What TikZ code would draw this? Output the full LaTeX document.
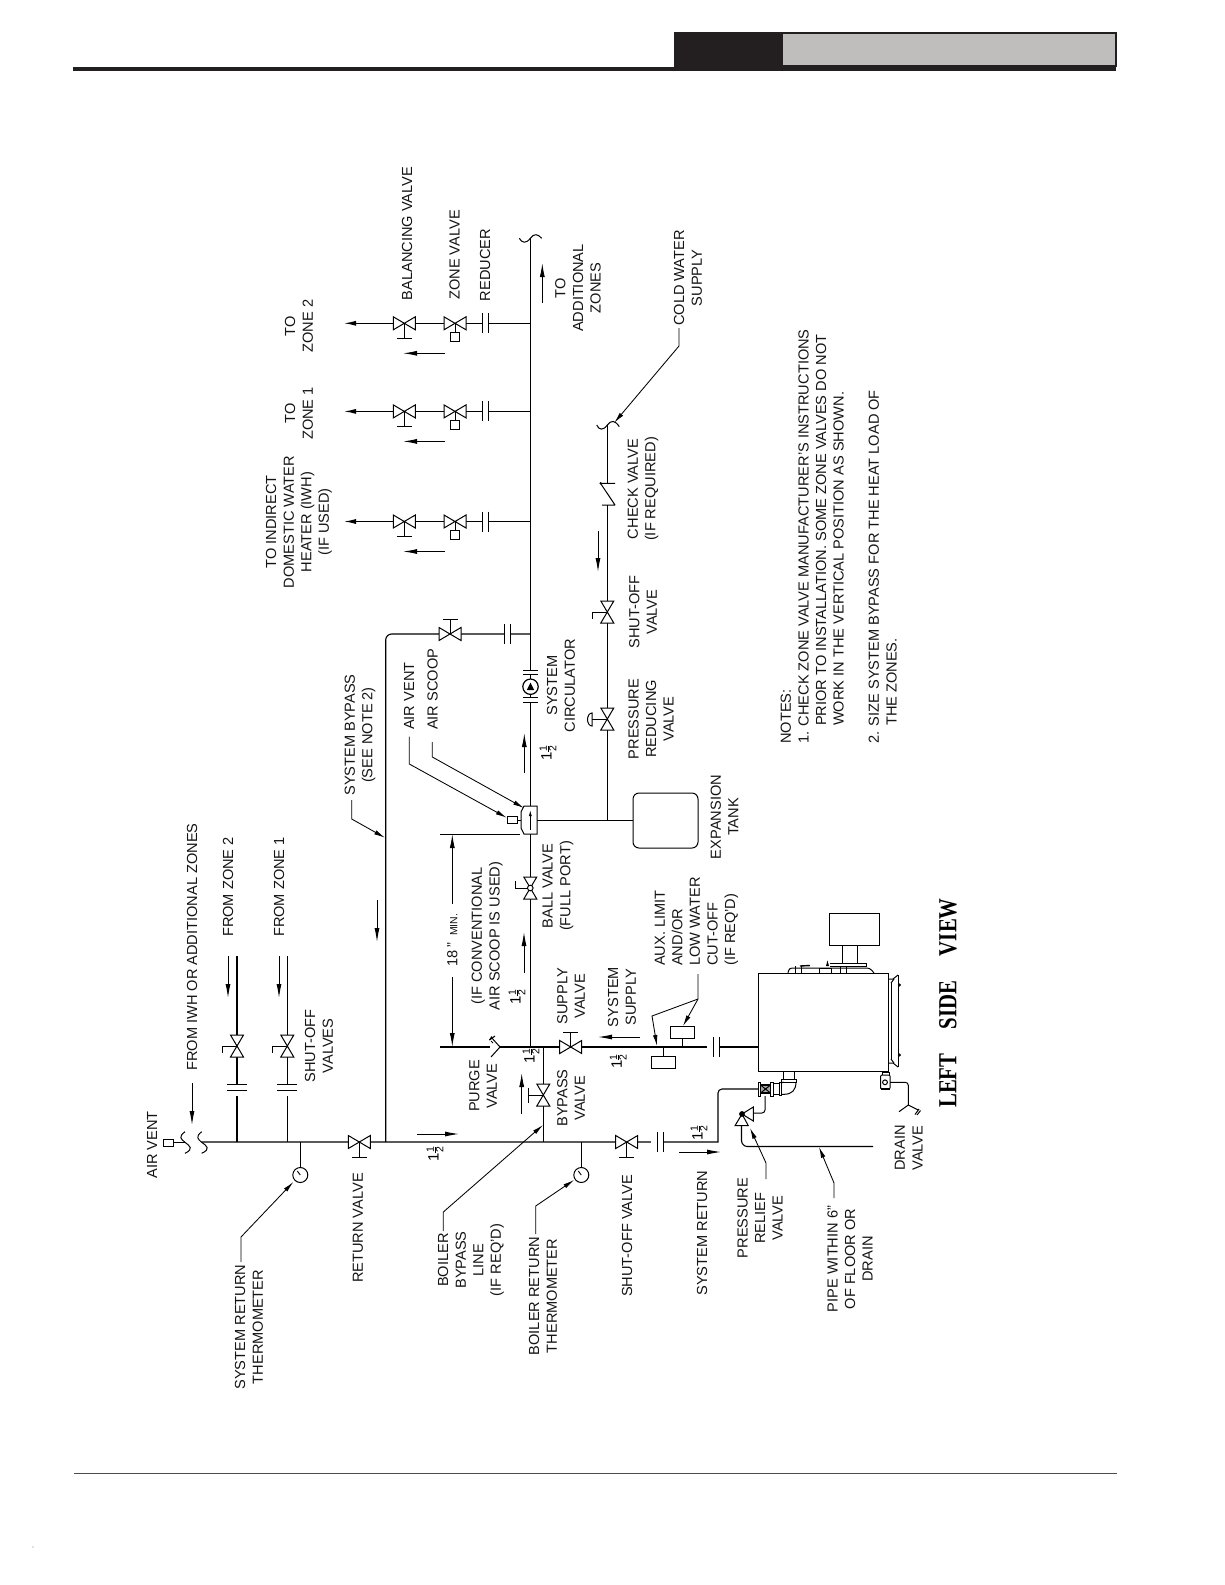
\documentclass[tikz,border=0pt]{standalone}
\usepackage{fontspec}
\setmainfont{Liberation Sans}
\newfontfamily\viewfont{Liberation Serif}
\usetikzlibrary{arrows.meta}
\definecolor{panelgray}{HTML}{BFBEBC}
\definecolor{inkblack}{HTML}{231F20}
\newcommand\oh{1$\vcenter{\hbox{\fontsize{10.5}{10.5}\selectfont 1}\kern.8pt\hrule height .7pt\kern.8pt\hbox{\fontsize{10.5}{10.5}\selectfont 2}}$}
\tikzset{
  ln/.style={line width=1pt,black},
  pipe/.style={line width=1.1pt,black},
  thin line/.style={line width=.9pt,black},
  flow/.style={line width=.95pt,-{Latex[length=14pt,width=5pt]}},
  leader/.style={line width=.85pt,-{Latex[length=11pt,width=4.5pt]}},
  lbl/.style={rotate=90,inner sep=0pt,align=center,font=\fontsize{14.6}{17.6}\selectfont,text=black!92},
  frac/.style={rotate=90,inner sep=0pt,font=\fontsize{15}{15}\selectfont},
  gate/.pic={\filldraw[ln,fill=white] (-11,-6.5)--(11,6.5)--(11,-6.5)--(-11,6.5)--cycle;},
  tstem/.pic={\draw[ln] (0,0)--(0,15) (-7.5,15)--(7.5,15);},
  lever/.pic={\draw[ln] (0,0)--(0,15)--(7,15);},
  leverb/.pic={\draw[ln] (0,0)--(0,15)--(-7,15);},
  coupling/.pic={\fill[white] (-3,-10) rectangle (3,10);\draw[ln] (-3,-10)--(-3,10) (3,-10)--(3,10);},
  couplinggap/.pic={\fill[white] (-3,-10) rectangle (9,10);\draw[ln] (-3,-10)--(-3,10) (3,-10)--(3,10);},
  gauge/.pic={\filldraw[ln,fill=white] (0,0) circle (7.5);\draw[thin line] (0,0)--(-3,-4);},
}
\begin{document}
\begin{tikzpicture}[x=1pt,y=-1pt]
\useasboundingbox (0,0) rectangle (1225,1585);
\fill[white] (0,0) rectangle (1225,1585);
% header
\fill[inkblack] (674,32) rectangle (1117,67);
\fill[inkblack] (73,67) rectangle (1116,71);
\fill[inkblack] (674,60) rectangle (783,68);
\fill[panelgray] (783,34) rectangle (1115,65);
\draw[line width=.9pt,black!70] (74,1473)--(1117,1473);
\fill[black!50] (33,1547) circle (.7);
% junction coordinates
\coordinate (retstart) at (202,1142);
\coordinate (retbend) at (718,1142);
\coordinate (retin) at (758,1089);
\coordinate (z2) at (237,1142);
\coordinate (z1) at (287.3,1142);
\coordinate (sysbyp) at (385.7,1142);
\coordinate (bybot) at (543.3,1142);
\coordinate (bytop) at (543.3,1047);
\coordinate (supj) at (530.3,1047);
\coordinate (supend) at (758,1047);
\coordinate (extend) at (490,1047);
\coordinate (exta) at (440,1047);
\coordinate (mtop) at (530.3,238);
\coordinate (scoopr) at (537,820.3);
\coordinate (tankl) at (633,820.3);
\coordinate (cj) at (607.3,820.3);
\coordinate (ctop) at (607.3,425);
% pipes
\draw[pipe] (retstart)--(retbend.center) [rounded corners=4pt] -- (718,1089) -- (retin);
\draw[pipe] (z2)--(237,956);
\draw[pipe] (z1)--(287.3,956);
\draw[pipe,rounded corners=6pt] (sysbyp)--(385.7,634)--(530.3,634);
\draw[pipe] (bybot)--(bytop);
\draw[pipe] (500,1047)--(supend);
\draw[pipe] (exta)--(extend);
\draw[pipe] (supj)--(mtop);
\draw[pipe] (scoopr)--(tankl);
\draw[pipe] (cj)--(ctop);
\draw[thin line] (300.3,1142)--(300.3,1167);
\draw[thin line] (581.3,1142)--(581.3,1167);
% zone branches
\foreach \by in {323.3,411.4,521.5}{
  \draw[pipe,-{Latex[length=12pt,width=5pt]}] (530.3,\by)--(344,\by);
  \pic at (404.3,\by) {tstem};
  \pic at (404.3,\by) {gate};
  \draw[ln] (455,\by)--(455,\by+9);
  \filldraw[ln,fill=white] (450.5,\by+9) rectangle (459.7,\by+18);
  \pic at (455,\by) {gate};
  \pic at (485.3,\by) {coupling};
  \draw[flow] (445,\by+30)--(403,\by+30);
}
% return side symbols
\pic[rotate=-90] at (237,1087) {couplinggap};
\pic[rotate=-90] at (287.3,1087) {couplinggap};
\pic[rotate=-90] at (237,1046) {lever};
\pic[rotate=-90] at (237,1046) {gate};
\pic[rotate=-90] at (287.3,1046) {lever};
\pic[rotate=-90] at (287.3,1046) {gate};
\pic at (359.3,1142) {tstem};
\pic at (359.3,1142) {gate};
\pic at (300.3,1175) {gauge};
\pic at (581.3,1175) {gauge};
\pic at (626.7,1142) {tstem};
\pic at (626.7,1142) {gate};
\pic[rotate=180] at (660,1142) {couplinggap};
% air vent and breaks
\filldraw[ln,fill=white] (163.7,1139) rectangle (173.7,1146.5);
\draw[ln] (173.7,1142.3)--(185,1142.3);
\draw[ln] (185,1131.7) .. controls (178,1137) and (181,1139) .. (185,1142.3) .. controls (190,1146) and (194,1149) .. (185,1153.3);
\draw[ln] (201.7,1131.7) .. controls (195,1137) and (198,1139) .. (201.7,1142.3) .. controls (207,1146) and (211,1149) .. (201.7,1153.3);
% supply side
\draw[ln] (500,1047)--(491,1037) (500,1047)--(491,1057) (489.5,1040)--(495,1036) (491,1041)--(493,1043);
\draw[ln] (489.5,1040)--(492,1036.5);
\pic[rotate=180] at (570.7,1047) {tstem};
\pic at (570.7,1047) {gate};
\pic[rotate=-90] at (543.3,1095) {tstem};
\pic[rotate=-90] at (543.3,1095) {gate};
\draw[ln] (682.7,1038)--(682.7,1047) (663,1047)--(663,1056);
\node[draw,ln,fill=white,minimum width=24pt,minimum height=12pt,inner sep=0pt] (auxa) at (682,1032) {};
\node[draw,ln,fill=white,minimum width=24pt,minimum height=12pt,inner sep=0pt] (auxb) at (663,1062) {};
\pic[rotate=180] at (716,1047) {couplinggap};
% main riser symbols
\pic[rotate=-90] at (530.3,888) {leverb};
\pic[rotate=-90] at (530.3,888) {gate};
\filldraw[ln,fill=white] (530.3,888) circle (2.8);
\filldraw[ln,fill=white] (521,812)--(524,806)--(537,806)--(537,834)--(524,834)--(521,828)--cycle;
\draw[thin line,-{Latex[length=6pt,width=3pt]}] (530.3,830)--(530.3,810);
\draw[ln] (517,820.3)--(521,820.3);
\node[draw,ln,fill=white,minimum width=10pt,minimum height=7pt,inner sep=0pt] (ventbox) at (512,820) {};
\fill[white] (526,670) rectangle (535,702);
\draw[ln] (523,670)--(537.7,670) (523,674.3)--(537.7,674.3) (523,697.7)--(537.7,697.7) (523,702)--(537.7,702);
\draw[pipe] (530.3,674.3)--(530.3,679) (530.3,694.4)--(530.3,697.7);
\draw[line width=1.2pt] (530.5,686.7) circle (7.7);
\fill (530.5,682.5)--(526.8,690)--(534.2,690)--cycle;
\pic at (507.3,634) {coupling};
\pic[rotate=180] at (450,634) {tstem};
\pic at (450,634) {gate};
% top break
\draw[ln] (519.3,238.3) .. controls (522,243) and (526,244) .. (530.3,238.3) .. controls (534,233) and (538,234) .. (541.7,238.3);
% cold water line
\draw[ln] (596.7,425) .. controls (599,430) and (603,431) .. (607.3,425) .. controls (611,420) and (615,420) .. (619.3,426.7);
\fill[white] (600,483.5) rectangle (615,505);
\draw[ln] (600.5,483.3)--(615,483.3) (600.5,483.3)--(615,505) (602,505)--(615,505);
\fill (600.7,483.3) circle (1.3);
\pic[rotate=-90] at (607.3,612) {lever};
\pic[rotate=-90] at (607.3,612) {gate};
\draw[ln] (607.3,719)--(592,719);
\draw[ln] (592,713) arc[start angle=90,end angle=270,x radius=4.5,y radius=-6.5]--cycle;
\pic[rotate=-90] at (607.3,719) {gate};
\node[draw,ln,fill=white,rounded corners=6pt,minimum width=65pt,minimum height=55pt,inner sep=0pt] (tank) at (665.5,820.5) {};
% boiler
\node[draw,ln,minimum width=130pt,minimum height=98.5pt,inner sep=0pt] (boiler) at (823.2,1022.5) {};
\node[draw,ln,minimum width=50pt,minimum height=32pt,inner sep=0pt] (ctrl) at (854,929) {};
\draw[ln] (842,945)--(842,963) (857,945)--(857,963);
\draw[ln] (830,963)--(866,963)--(866,966)--(830,966);
\draw[ln,rounded corners=3pt] (788,973)--(789,968)--(870,968)--(874,973);
\draw[thin line] (795,966)--(795,973) (801,966)--(801,973) (840,966)--(840,973) (846,966)--(846,973);
\filldraw[ln,fill=white] (819,968.5) rectangle (831,973);
\draw[line width=1.4pt] (800,966)--(810,965.5);
\fill (826,966)--(827.5,960.5)--(829,966)--cycle;
% boiler front panel
\draw[ln] (888.3,979)--(893,979)--(898,975) (888.3,1063)--(893,1063)--(898,1067);
\draw[ln] (891,983)--(891,1059) (898,975)--(898,1067);
\draw[ln] (891,983)--(894,979) (891,1059)--(894,1063);
\fill (899.5,985) circle (1.7) (899.5,1055) circle (1.7);
% return elbow and valve
\draw[ln] (783.3,1072)--(783.3,1079) (794.3,1072)--(794.3,1079);
\draw[ln] (781.7,1079) rectangle (796.7,1082);
\draw[ln] (796,1082) .. controls (796,1090) and (792,1094.3) .. (784,1094.3)--(781,1094.3);
\draw[ln] (783.5,1082)--(781,1083.3);
\draw[ln] (779,1082) rectangle (781,1095.5);
\draw[ln] (773,1083.3)--(779,1083.3) (773,1094.3)--(779,1094.3);
\draw[ln] (758,1082) rectangle (760.5,1096);
\draw[ln] (770.5,1082) rectangle (773,1096);
\filldraw[line width=1.4pt,fill=black!35] (760.5,1085) rectangle (770.5,1093);
\draw[ln] (760.5,1085)--(770.5,1093) (760.5,1093)--(770.5,1085);
\draw[ln,rounded corners=3pt] (765,1096)--(765,1113)--(753.3,1113);
% relief valve
\draw[ln] (742,1114)--(753.3,1107)--(753.3,1121)--cycle;
\draw[ln] (742,1114)--(735,1125.7)--(748.3,1125.7)--cycle;
\fill (742,1114) circle (2.9);
\draw[pipe,rounded corners=6pt] (741.5,1125.7)--(741.5,1146.5)--(873,1146.5);
% drain valve
\draw[ln] (882,1072) rectangle (889,1075);
\filldraw[ln,fill=white,rounded corners=1pt] (880.7,1075) rectangle (890,1089);
\draw[line width=1.5pt] (881,1089)--(890,1089);
\draw[ln] (885,1082.3) circle (2.4);
\draw[ln,rounded corners=3pt] (890,1082.3)--(908.3,1082.3)--(908.3,1105);
\draw[ln] (899,1111.7)--(908.3,1105)--(918.3,1110) (915,1114.5)--(919,1109) (917,1115)--(920.5,1110.5);
% flow arrows
\draw[flow] (192,1083)--(192,1125);
\draw[flow] (228,956)--(228,998);
\draw[flow] (279,956)--(279,998);
\draw[flow] (377,900)--(377,942);
\draw[flow] (417,1134)--(459,1134);
\draw[flow] (521.7,1114)--(521.7,1073);
\draw[flow] (524,973)--(524,932);
\draw[flow] (524.3,773)--(524.3,733);
\draw[flow] (640,1037)--(598,1037);
\draw[flow] (679,1152)--(721,1152);
\draw[flow] (598,531)--(598,572);
\draw[flow] (542.3,303)--(542.3,263);
% dimension
\draw[thin line] (440,834)--(520,834);
\draw[line width=.95pt,{Latex[length=14pt,width=5pt]}-] (452.3,834)--(452.3,904);
\draw[line width=.95pt,-{Latex[length=14pt,width=5pt]}] (452.3,977)--(452.3,1047);
% leaders
\draw[leader] (241,1262)--(241,1237)--(293.3,1182);
\draw[leader] (443.3,1231)--(443.3,1212)--(543,1125);
\draw[leader] (535.7,1234)--(535.7,1206)--(574,1180);
\draw[leader] (409.3,736.7)--(409.3,764)--(506.7,817.7);
\draw[leader] (432.3,742)--(432.3,757)--(524,808);
\draw[leader] (351.7,800)--(351.7,819)--(385,837.7);
\draw[leader] (679,328)--(679,346)--(614.3,422.7);
\draw[leader] (698,974)--(698,999)--(683,1026);
\draw[leader] (698,999)--(652,1016)--(657,1046);
\draw[leader] (766,1179)--(766,1163)--(750,1128);
\draw[leader] (834,1198)--(834,1183)--(819,1147);
% labels
\node[lbl] (t1) at (407,233.5) {BALANCING VALVE};
\node[lbl] (t2) at (454.5,255) {ZONE VALVE};
\node[lbl] (t3) at (485,265) {REDUCER};
\node[lbl] (t4) at (299,326) {TO\\ZONE 2};
\node[lbl] (t5) at (299,413.5) {TO\\ZONE 1};
\node[lbl] (t6) at (299,522) {TO INDIRECT\\DOMESTIC WATER\\HEATER (IWH)\\(IF USED)};
\node[lbl] (t7) at (578,288) {TO\\ADDITIONAL\\ZONES};
\node[lbl] (t8) at (688,278) {COLD WATER\\SUPPLY};
\node[lbl] (t9) at (643,489) {CHECK VALVE\\(IF REQUIRED)};
\node[lbl] (t10) at (643,612) {SHUT-OFF\\VALVE};
\node[lbl] (t11) at (651,719) {PRESSURE\\REDUCING\\VALVE};
\node[lbl] (t12) at (561,685.6) {SYSTEM\\CIRCULATOR};
\node[lbl] (t13) at (724.5,817) {EXPANSION\\TANK};
\node[lbl] (t14) at (558,886) {BALL VALVE\\(FULL PORT)};
\node[lbl,anchor=west] (t15) at (409,730) {AIR VENT};
\node[lbl,anchor=west] (t16) at (432.5,730) {AIR SCOOP};
\node[lbl] (t17) at (360,735) {SYSTEM BYPASS\\(SEE NOTE 2)};
\node[lbl] (t18) at (192,947) {FROM IWH OR ADDITIONAL ZONES};
\node[lbl] (t19) at (228,887) {FROM ZONE 2};
\node[lbl] (t20) at (279,887) {FROM ZONE 1};
\node[lbl] (t21) at (319,1046) {SHUT-OFF\\VALVES};
\node[lbl] (t22) at (152,1145) {AIR VENT};
\node[lbl] (t23) at (487,936) {(IF CONVENTIONAL\\AIR SCOOP IS USED)};
\node[lbl] (t24) at (483,1086) {PURGE\\VALVE};
\node[lbl] (t25) at (571,1098) {BYPASS\\VALVE};
\node[lbl] (t26) at (571,996) {SUPPLY\\VALVE};
\node[lbl] (t27) at (622,997) {SYSTEM\\SUPPLY};
\node[lbl,anchor=north west,align=left] (t28) at (654.5,966) {AUX. LIMIT\\AND/OR\\LOW WATER\\CUT-OFF\\(IF REQ'D)};
\node[rotate=90,inner sep=0pt,font=\viewfont\bfseries\fontsize{26}{26}\selectfont] (t29) at (948,1003) {\scalebox{.8}[1]{LEFT\hspace{24pt} SIDE\hspace{24pt} VIEW}};
\node[lbl] (t30) at (908.7,1148) {DRAIN\\VALVE};
\node[lbl] (t31) at (760,1218) {PRESSURE\\RELIEF\\VALVE};
\node[lbl] (t32) at (850,1259) {PIPE WITHIN 6"\\OF FLOOR OR\\DRAIN};
\node[lbl] (t33) at (702,1233) {SYSTEM RETURN};
\node[lbl] (t34) at (627,1236) {SHUT-OFF VALVE};
\node[lbl] (t35) at (543,1296) {BOILER RETURN\\THERMOMETER};
\node[lbl] (t36) at (471,1260) {BOILER\\BYPASS\\LINE\\(IF REQ'D)};
\node[lbl] (t37) at (358,1228) {RETURN VALVE};
\node[lbl] (t38) at (249,1327) {SYSTEM RETURN\\THERMOMETER};
\node[lbl,anchor=north west,align=left] (t39) at (780.5,744) {NOTES:\\1. CHECK ZONE VALVE MANUFACTURER'S INSTRUCTIONS\\\hspace*{18pt}PRIOR TO INSTALLATION. SOME ZONE VALVES DO NOT\\\hspace*{18pt}WORK IN THE VERTICAL POSITION AS SHOWN.\\[17.6pt]2. SIZE SYSTEM BYPASS FOR THE HEAT LOAD OF\\\hspace*{18pt}THE ZONES.};
\node[lbl,font=\fontsize{14.6}{14.6}\selectfont] (t40) at (452.3,940) {18\,"\hspace{7pt}{\fontsize{10.5}{10.5}\selectfont MIN.}};
% fractions
\node[frac] (f1) at (435,1154) {\oh};
\node[frac] (f2) at (517,997) {\oh};
\node[frac] (f3) at (531,1056) {\oh};
\node[frac] (f4) at (618.3,1061.7) {\oh};
\node[frac] (f5) at (699,1133) {\oh};
\node[frac] (f6) at (548,753) {\oh};
\end{tikzpicture}
\end{document}
